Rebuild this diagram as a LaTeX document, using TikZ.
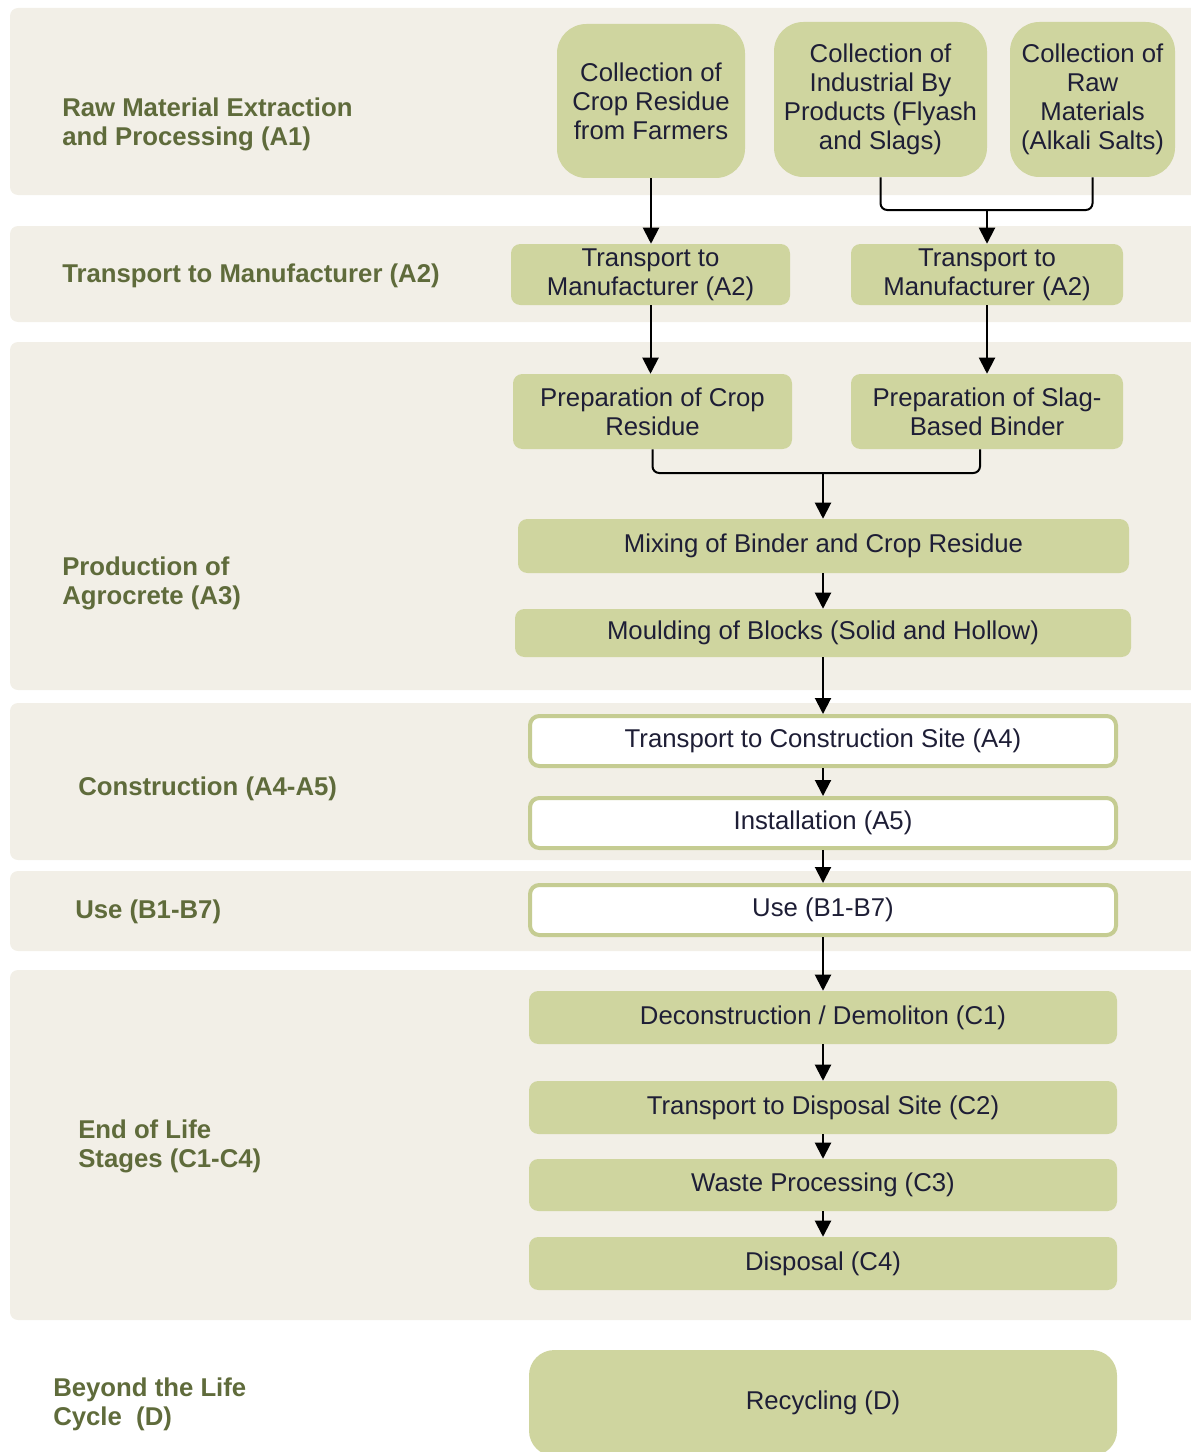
\documentclass[tikz,border=0pt]{standalone}
\usepackage{fontspec}
\setmainfont{Liberation Sans}
\usetikzlibrary{arrows.meta,calc}
\definecolor{bandc}{HTML}{F2EFE7}
\definecolor{boxc}{HTML}{CFD59F}
\definecolor{labc}{HTML}{5F6B3B}
\definecolor{txtc}{HTML}{1E1E36}
\definecolor{brdc}{HTML}{C5CC92}
\newcommand{\nfont}{\fontsize{19.3}{21.75}\selectfont}
\newcommand{\lfont}{\fontsize{19.3}{21.75}\selectfont\bfseries}
\begin{document}
\begin{tikzpicture}[x=0.75pt,y=-0.75pt,
  band/.style={fill=bandc, rounded corners=6pt},
  gbox/.style={fill=boxc, rounded corners=7pt, inner sep=0pt, align=center, text=txtc, font=\nfont},
  wbox/.style={fill=white, draw=brdc, line width=3pt, rounded corners=7pt, inner sep=0pt, align=center, text=txtc, font=\nfont},
  lab/.style={anchor=west, inner sep=0pt, align=left, text=labc, font=\lfont},
  arr/.style={-{Triangle[width=12pt,length=12pt]}, line width=1.5pt},
  ln/.style={line width=1.5pt, rounded corners=5pt}
]
\useasboundingbox (0,0) rectangle (1191,1452);
% bands
\path[band] (10,8) rectangle (1205,195);
\path[band] (10,226) rectangle (1205,322);
\path[band] (10,342) rectangle (1205,690);
\path[band] (10,703) rectangle (1205,860);
\path[band] (10,871) rectangle (1205,951);
\path[band] (10,970) rectangle (1205,1320);

% labels
\node[lab] (l1) at (62,124) {Raw Material Extraction\\and Processing (A1)};
\node[lab] (l2) at (62,276) {Transport to Manufacturer (A2)};
\node[lab] (l3) at (62,583) {Production of\\Agrocrete (A3)};
\node[lab] (l4) at (78,789) {Construction (A4-A5)};
\node[lab] (l5) at (75,912) {Use (B1-B7)};
\node[lab] (l6) at (78,1146) {End of Life\\Stages (C1-C4)};
\node[lab] (l7) at (53,1404) {Beyond the Life\\Cycle\ \ (D)};

% A1 nodes
\node[gbox, rounded corners=22pt, minimum width=141pt, minimum height=115.5pt] (colcrop) at (651,101) {Collection of\\Crop Residue\\from Farmers};
\node[gbox, rounded corners=22pt, minimum width=159.75pt, minimum height=116.25pt] (colind) at (880.5,99.5) {Collection of\\Industrial By\\Products (Flyash\\and Slags)};
\node[gbox, rounded corners=22pt, minimum width=123.75pt, minimum height=116.25pt] (colraw) at (1092.5,99.5) {Collection of\\Raw\\Materials\\(Alkali Salts)};
% A2
\node[gbox, minimum width=209.25pt, minimum height=45.75pt] (tr1) at (650.5,274.5) {Transport to\\Manufacturer (A2)};
\node[gbox, minimum width=204pt, minimum height=45.75pt] (tr2) at (987,274.5) {Transport to\\Manufacturer (A2)};
% A3
\node[gbox, minimum width=209.25pt, minimum height=56.25pt] (prep1) at (652.5,411.5) {Preparation of Crop\\Residue};
\node[gbox, minimum width=204pt, minimum height=56.25pt] (prep2) at (987,411.5) {Preparation of Slag-\\Based Binder};
\node[gbox, minimum width=458.25pt, minimum height=40.5pt] (mix) at (823.5,546) {\raisebox{-1.2pt}{Mixing of Binder and Crop Residue}};
\node[gbox, minimum width=462pt, minimum height=36pt] (mould) at (823,633) {\raisebox{-1.2pt}{Moulding of Blocks (Solid and Hollow)}};
% A4-A5, B
\node[wbox, minimum width=439.5pt, minimum height=37.5pt] (tr4) at (823,741) {\raisebox{-1.2pt}{Transport to Construction Site (A4)}};
\node[wbox, minimum width=439.5pt, minimum height=37.5pt] (inst) at (823,823) {\raisebox{-1.2pt}{Installation (A5)}};
\node[wbox, minimum width=439.5pt, minimum height=37.5pt] (use) at (823,910) {\raisebox{-1.2pt}{Use (B1-B7)}};
% C
\node[gbox, minimum width=441pt, minimum height=39.75pt] (dec) at (823,1017.5) {\raisebox{-1.2pt}{Deconstruction / Demoliton (C1)}};
\node[gbox, minimum width=441pt, minimum height=39.75pt] (trc) at (823,1107.5) {\raisebox{-1.2pt}{Transport to Disposal Site (C2)}};
\node[gbox, minimum width=441pt, minimum height=39pt] (waste) at (823,1185) {\raisebox{-1.2pt}{Waste Processing (C3)}};
\node[gbox, minimum width=441pt, minimum height=39.75pt] (disp) at (823,1263.5) {\raisebox{-1.2pt}{Disposal (C4)}};
% D
\node[gbox, rounded corners=19pt, minimum width=441pt, minimum height=79.5pt] (rec) at (823,1403) {\raisebox{-1.2pt}{Recycling (D)}};

% connectors
\coordinate (j1) at (987,210);
\coordinate (j2) at (823,473);
\draw[arr] (colcrop.south) -- (colcrop.south |- tr1.north);
\draw[ln] (colind.south) |- (j1);
\draw[ln] (colraw.south) |- (j1);
\draw[arr] (j1) -- (j1 |- tr2.north);
\draw[arr] (tr1.south) -- (tr1.south |- prep1.north);
\draw[arr] (tr2.south) -- (tr2.south |- prep2.north);
\draw[ln] (prep1.south) |- (j2);
\draw[ln] ($(prep2.south)+(-7,0)$) |- (j2);
\draw[arr] (j2) -- (j2 |- mix.north);
\draw[arr] (mix.south -| j2) -- (j2 |- mould.north);
\draw[arr] (mould.south -| j2) -- (j2 |- tr4.north);
\draw[arr] (tr4.south -| j2) -- (j2 |- inst.north);
\draw[arr] (inst.south -| j2) -- (j2 |- use.north);
\draw[arr] (use.south -| j2) -- (j2 |- dec.north);
\draw[arr] (dec.south -| j2) -- (j2 |- trc.north);
\draw[arr] (trc.south -| j2) -- (j2 |- waste.north);
\draw[arr] (waste.south -| j2) -- (j2 |- disp.north);
\end{tikzpicture}
\end{document}
